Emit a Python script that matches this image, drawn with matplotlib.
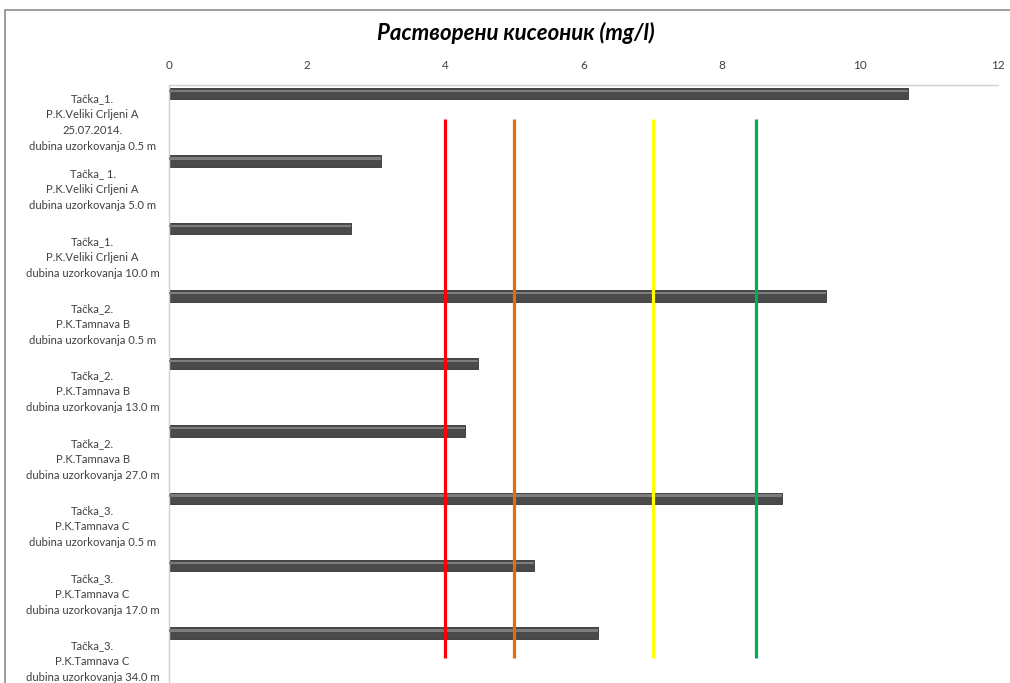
import matplotlib
matplotlib.use("Agg")
import matplotlib.pyplot as plt
from matplotlib.patches import Rectangle

categories = [
    "Tačka_1.\nP.K.Veliki Crljeni A\n25.07.2014.\ndubina uzorkovanja 0.5 m",
    "Tačka_ 1.\nP.K.Veliki Crljeni A\ndubina uzorkovanja 5.0 m",
    "Tačka_1.\nP.K.Veliki Crljeni A\ndubina uzorkovanja 10.0 m",
    "Tačka_2.\nP.K.Tamnava B\ndubina uzorkovanja 0.5 m",
    "Tačka_2.\nP.K.Tamnava B\ndubina uzorkovanja 13.0 m",
    "Tačka_2.\nP.K.Tamnava B\ndubina uzorkovanja 27.0 m",
    "Tačka_3.\nP.K.Tamnava C\ndubina uzorkovanja 0.5 m",
    "Tačka_3.\nP.K.Tamnava C\ndubina uzorkovanja 17.0 m",
    "Tačka_3.\nP.K.Tamnava C\ndubina uzorkovanja 34.0 m",
]
values = [10.70, 3.07, 2.63, 9.51, 4.47, 4.28, 8.87, 5.28, 6.21]
thresholds = [4.0, 5.0, 7.0, 8.5]
threshold_colors = ["#FF0000", "#E46C0A", "#FFFF00", "#00B050"]
threshold_span = [0, 8]
x_ticks = [0, 2, 4, 6, 8, 10, 12]
title = "Растворени кисеоник (mg/l)"

plt.rcParams['font.family'] = ['Lato', 'DejaVu Sans']

fig = plt.figure(figsize=(10.10, 6.83), dpi=100)
fig.patch.set_facecolor("white")
# outer chart border
fig.patches.append(Rectangle((5/1010, -0.1), 1.2, (683-10)/683 + 0.1,
                             transform=fig.transFigure, fill=False,
                             edgecolor="#8c8c8c", linewidth=1.2))

ax = fig.add_axes([169/1010, 0.0, (998-169)/1010, (683-85)/683])
ypos = list(range(len(categories)))
bar_off = -0.372
bar_h = 0.17
ax.barh([y + bar_off for y in ypos], values, height=bar_h,
        color="#4a4a4a", edgecolor="#333333", linewidth=0.6, zorder=2)
# highlight strip for 3D look
ax.barh([y + bar_off - 0.04 for y in ypos], values, height=0.035,
        color="#7d7d7d", linewidth=0, zorder=3)

for t, c in zip(thresholds, threshold_colors):
    ax.plot([t, t], threshold_span, color=c, linewidth=2.3, zorder=4,
            solid_capstyle="butt")

ax.set_xlim(0, 12)
ax.set_ylim(8.5 - 9/67.5, -0.5)
ax.xaxis.tick_top()
ax.set_xticks(x_ticks)
ax.set_xticklabels([str(v) for v in x_ticks])
ax.tick_params(axis="x", length=0, pad=10, labelsize=8.5, labelcolor="#404040")
ax.set_yticks(ypos)
ax.set_yticklabels(categories)
ax.tick_params(axis="y", length=0, pad=55, labelsize=8.1, labelcolor="#404040")
for lbl in ax.get_yticklabels():
    lbl.set_horizontalalignment("center")
    lbl.set_multialignment("center")
    lbl.set_linespacing(1.55)

for s in ["right", "bottom"]:
    ax.spines[s].set_visible(False)
ax.spines["top"].set_color("#d0d0d0")
ax.spines["left"].set_color("#d0d0d0")
ax.spines["top"].set_linewidth(1.0)
ax.spines["left"].set_linewidth(1.0)

fig.text(516/1010, 1 - 33/683, title, ha="center", va="center",
         fontsize=16, fontweight="bold", fontstyle="italic", color="black")

fig.savefig("out.png", dpi=100, facecolor="white")
